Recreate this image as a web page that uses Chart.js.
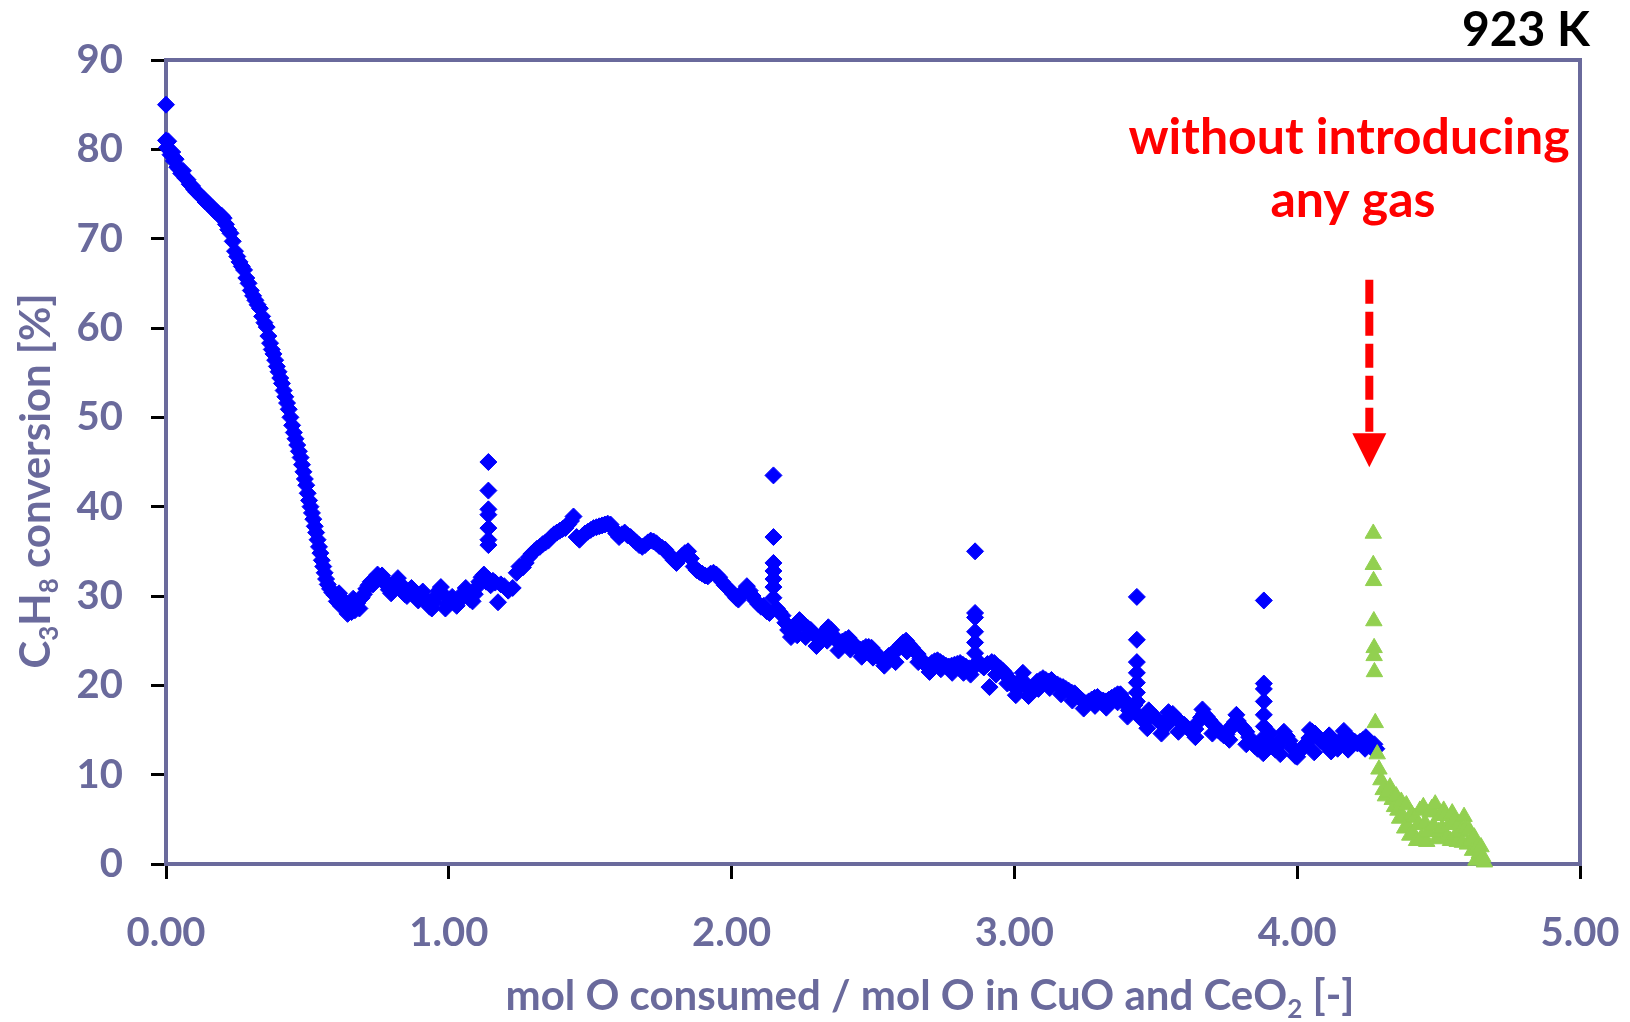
<!DOCTYPE html>
<html>
<head>
<meta charset="utf-8">
<script src="https://cdn.jsdelivr.net/npm/chart.js@4.4.1/dist/chart.umd.min.js"></script>
<style>
  html, body { margin: 0; padding: 0; background: #fff; }
  #wrap { width: 1630px; height: 1022px; }
</style>
</head>
<body>
<div id="wrap"><canvas id="myChart" width="1630" height="1022"></canvas></div>
<script>
const AXIS_COLOR = '#6a6a9c';
const FONT = 'Lato, "Open Sans", sans-serif';

// x = mol O consumed / mol O, y = C3H8 conversion [%]
const blueDrop = [
  [0.000,85.0],[0.000,81.0],[0.004,80.2],[0.008,80.9],[0.012,79.9],[0.016,79.4],[0.022,79.7],[0.028,78.7],
  [0.034,78.9],[0.040,78.0],[0.047,77.8],[0.054,77.3],[0.060,77.6],[0.068,76.8],[0.076,76.6],[0.084,76.1],
  [0.092,75.9],[0.100,75.5],[0.108,75.2],[0.116,75.0],[0.124,74.7],[0.132,74.5],[0.140,74.1],[0.148,74.0],
  [0.156,73.7],[0.164,73.5],[0.172,73.1],[0.180,73.0],[0.188,72.6],[0.196,72.6],[0.204,72.3],[0.212,71.6],
  [0.220,71.0],[0.228,70.6],[0.236,69.7],[0.244,68.6],[0.252,68.0],[0.260,67.4],[0.268,66.9],[0.276,66.5],
  [0.284,65.6],[0.292,65.0],[0.300,64.2],[0.308,63.6],[0.316,63.1],[0.324,62.6],[0.332,62.2],[0.340,61.3],
  [0.348,60.6],[0.356,60.1],[0.362,59.1],[0.368,58.3],[0.374,57.6],[0.380,57.1],[0.386,56.4],[0.392,55.7],
  [0.398,55.1],[0.404,54.4],[0.410,53.8],[0.416,53.0],[0.422,52.3],[0.428,51.6],[0.434,50.9],[0.440,50.0],
  [0.446,49.1],[0.452,48.3],[0.458,47.6],[0.464,46.9],[0.470,46.2],[0.476,45.5],[0.481,44.7],[0.486,43.9],
  [0.491,43.1],[0.496,42.4],[0.501,41.5],[0.506,40.7],[0.511,40.0],[0.516,39.3],[0.521,38.6],[0.526,37.8],
  [0.531,37.1],[0.536,36.3],[0.541,35.5],[0.546,34.8],[0.551,34.0],[0.556,33.3],[0.561,32.6],[0.566,31.9],
  [0.572,31.3],[0.580,30.8],[0.588,30.4],[0.596,30.1]
];

const blueValley = [
  [0.604,29.4],[0.612,30.3],[0.618,28.9],[0.626,29.6],[0.634,28.6],[0.642,28.0],[0.650,29.0],[0.656,28.2],
  [0.662,29.7],[0.668,28.4],[0.676,29.2],[0.684,28.6],[0.692,29.8],[0.700,30.2],[0.708,30.8],[0.716,31.2],
  [0.724,31.6],[0.732,31.3],[0.740,32.0],[0.748,32.4],[0.756,32.1],[0.764,32.3],[0.772,31.8],[0.780,31.2],
  [0.788,30.7],[0.796,30.3],[0.804,30.9],[0.812,31.5],[0.820,32.0],[0.828,31.4],[0.836,30.8],[0.844,30.2],
  [0.852,30.0],[0.860,30.6],[0.868,30.9],[0.876,30.4],[0.884,29.8],[0.892,29.5],[0.900,30.2],[0.908,30.5],
  [0.916,29.7],[0.924,29.2],[0.932,28.8],[0.940,28.6],[0.948,29.3],[0.956,30.0],[0.964,30.6],[0.972,31.0],
  [0.980,30.2],[0.988,28.6],[0.996,29.1],[1.004,29.6],[1.012,29.9],[1.020,29.2],[1.028,28.9],[1.036,29.4],
  [1.044,29.9],[1.052,30.4],[1.060,30.9],[1.068,30.3],[1.076,29.6],[1.084,29.4],[1.092,30.2],[1.100,31.0],
  [1.108,31.6],[1.116,32.1],[1.124,32.4],[1.132,31.6],[1.140,31.9],[1.148,31.2],[1.156,31.7],[1.164,31.5],
  [1.174,29.3],[1.184,31.3],[1.196,31.1],[1.210,30.6],[1.226,30.9],[1.240,32.6],[1.250,33.3],[1.262,33.2],
  [1.272,33.7],[1.282,34.3],[1.292,34.7],[1.302,35.0],[1.312,35.3],[1.322,35.5],[1.332,35.8],[1.342,36.0],
  [1.352,36.2],[1.362,36.6],[1.372,36.9],[1.382,37.1],[1.392,37.3],[1.402,37.5],[1.412,37.6],[1.422,38.0],
  [1.432,38.4],[1.441,38.9]
];

const blueHump = [
  [1.452,36.6],[1.462,36.3],[1.472,36.7],[1.482,37.0],[1.492,37.2],[1.502,37.4],[1.512,37.6],[1.522,37.7],
  [1.532,37.8],[1.542,37.9],[1.552,38.0],[1.562,38.1],[1.572,38.0],[1.582,37.5],[1.592,37.0],[1.602,36.6],
  [1.612,36.9],[1.622,37.1],[1.632,36.8],[1.643,36.6],[1.653,36.3],[1.663,36.0],[1.673,35.7],[1.684,35.5],
  [1.694,35.7],[1.704,36.0],[1.714,36.2],[1.724,36.1],[1.734,35.9],[1.744,35.6],[1.754,35.4],[1.765,35.2],
  [1.775,34.8],[1.785,34.4],[1.795,34.0],[1.805,33.7],[1.815,34.1],[1.825,34.5],[1.835,34.8],[1.846,35.0],
  [1.856,34.2],[1.866,33.3],[1.876,32.9],[1.886,32.7],[1.896,32.5],[1.906,32.3],[1.916,32.2],[1.926,32.5],
  [1.936,32.6],[1.946,32.4],[1.956,32.1],[1.966,31.6],[1.976,31.2],[1.986,30.9],[1.996,30.6],[2.006,30.2],
  [2.016,29.8],[2.024,29.6],[2.034,30.1],[2.044,30.6],[2.054,31.1],[2.064,30.6],[2.074,30.0],[2.084,29.5],
  [2.094,29.1],[2.104,28.8],[2.114,28.9],[2.124,28.3],[2.134,28.1],[2.160,28.6],[2.170,28.2],[2.180,27.8],
  [2.190,27.0],[2.200,26.2],[2.210,25.4],[2.220,26.2],[2.230,26.8],[2.240,27.3],[2.250,27.0],[2.260,26.6],
  [2.270,26.4],[2.280,26.2],[2.290,25.8],[2.300,25.4],[2.312,25.1],[2.322,25.6],[2.332,26.1],[2.342,26.5],
  [2.352,26.2],[2.362,25.5],[2.372,25.0],[2.382,24.7],[2.392,24.9],[2.402,25.1],[2.414,25.3],[2.424,24.9],
  [2.434,24.5],[2.444,24.2],[2.455,24.0],[2.465,24.1],[2.475,24.3],[2.485,24.3],[2.495,24.2],[2.505,23.8],
  [2.515,23.4],[2.525,23.0],[2.536,22.8],[2.546,23.0],[2.556,23.3],[2.566,23.5],[2.577,23.7],[2.587,24.1],
  [2.597,24.5],[2.607,24.8],[2.617,25.0],[2.627,24.6],[2.638,24.2],[2.648,23.8],[2.658,23.5],[2.668,23.0],
  [2.678,22.6],[2.688,22.2],[2.698,22.2],[2.708,22.5],[2.718,22.7],[2.728,22.8],[2.738,22.6],[2.748,22.4],
  [2.758,22.2],[2.768,22.1],[2.778,22.2],[2.788,22.3],[2.798,22.4],[2.808,22.5],[2.818,22.3],[2.828,22.1],
  [2.840,21.9],[2.850,21.8],[2.872,22.7],[2.882,22.3],[2.892,22.0]
];

const blueHumpEdge = [
  [2.232,25.6],[2.262,25.4],[2.300,24.4],[2.338,25.0],[2.378,23.9],[2.420,24.0],[2.460,23.2],[2.500,23.1],
  [2.540,22.2],[2.580,22.6],[2.620,23.8],[2.660,22.6],[2.700,21.5],[2.740,21.8],[2.780,21.4],[2.820,21.4],
  [2.845,21.2]
];

const blueTail = [
  [2.905,22.4],[2.912,19.8],[2.920,22.6],[2.929,22.5],[2.940,22.1],[2.950,21.9],[2.960,21.6],[2.969,21.3],
  [2.980,20.8],[2.990,20.3],[3.000,19.9],[3.010,19.5],[3.020,20.6],[3.030,21.4],[3.040,20.2],[3.050,18.8],
  [3.060,19.4],[3.070,19.9],[3.080,20.4],[3.091,20.6],[3.101,20.8],[3.111,20.6],[3.121,20.4],[3.131,20.6],
  [3.141,20.3],[3.152,20.1],[3.162,19.9],[3.172,19.8],[3.182,19.6],[3.192,19.4],[3.202,19.2],[3.213,19.1],
  [3.223,18.8],[3.233,18.5],[3.243,18.2],[3.253,18.0],[3.263,18.2],[3.273,18.4],[3.284,18.6],[3.294,18.7],
  [3.304,18.4],[3.314,18.3],[3.324,18.2],[3.334,18.4],[3.344,18.6],[3.355,18.8],[3.365,19.0],[3.375,19.0],
  [3.385,18.5],[3.395,17.8],[3.405,17.2],[3.415,17.5],[3.425,17.8],[3.440,16.6],[3.450,16.2],[3.460,16.1],
  [3.470,16.3],[3.480,16.5],[3.490,16.6],[3.500,16.4],[3.510,16.0],[3.520,15.7],[3.530,15.5],[3.540,15.6],
  [3.550,16.5],[3.560,16.8],[3.570,16.4],[3.580,16.1],[3.590,15.8],[3.600,15.6],[3.610,15.3],[3.620,15.0],
  [3.630,15.0],[3.640,15.1],[3.650,15.9],[3.660,16.4],[3.670,16.8],[3.680,16.5],[3.690,16.1],[3.700,15.7],
  [3.710,15.4],[3.720,15.0],[3.730,14.7],[3.740,14.4],[3.750,14.5],[3.760,15.0],[3.770,15.5],[3.780,15.9],
  [3.790,16.0],[3.800,15.5],[3.810,15.2],[3.820,14.8],[3.830,14.2],[3.840,13.6],[3.850,13.2],[3.860,12.9],
  [3.870,13.2],[3.893,13.3],[3.903,13.5],[3.913,13.1],[3.923,12.8],[3.933,13.3],[3.943,14.0],[3.953,14.8],
  [3.963,14.3],[3.973,13.8],[3.983,13.0],[3.993,12.1],[4.003,12.4],[4.013,12.8],[4.023,13.2],[4.033,13.5],
  [4.043,14.1],[4.053,14.8],[4.063,14.6],[4.073,14.2],[4.083,13.8],[4.093,13.5],[4.103,13.9],[4.113,14.4],
  [4.123,14.0],[4.133,13.3],[4.143,12.9],[4.153,13.5],[4.163,14.1],[4.173,14.5],[4.183,14.2],[4.193,13.9],
  [4.203,13.7],[4.213,13.5],[4.223,13.7],[4.233,13.9],[4.243,14.2],[4.253,13.8],[4.263,13.0],[4.273,13.4],
  [4.280,12.9]
];

const blueTailEdge = [
  [2.935,21.2],[2.975,20.2],[3.005,18.9],[3.045,19.8],[3.085,19.6],[3.125,19.7],[3.165,19.0],[3.205,18.3],
  [3.245,17.4],[3.285,17.7],[3.325,17.5],[3.365,18.1],[3.400,16.5],[3.470,15.2],[3.520,14.6],[3.580,14.8],
  [3.640,14.2],[3.700,14.6],[3.760,13.9],[3.820,13.4],[3.880,12.4],[3.940,12.3],[4.000,12.0],[4.060,12.5],
  [4.120,12.6],[4.180,12.8],[4.240,12.9],[3.475,17.2],[3.545,17.0],[3.665,17.3],[3.785,16.7],[3.905,14.6],
  [4.045,15.0],[4.165,14.9]
];

const blueSpikes = [
  [1.140,45.0],[1.140,41.8],[1.140,39.7],[1.140,39.1],[1.140,37.6],[1.140,36.3],[1.140,35.7],
  [2.148,43.5],[2.148,36.6],[2.148,33.7],[2.148,32.8],[2.148,31.9],[2.148,31.0],[2.148,29.8],
  [2.861,35.0],[2.861,28.1],[2.861,27.6],[2.861,26.0],[2.861,24.8],[2.861,23.6],
  [3.433,29.9],[3.433,25.1],[3.433,22.6],[3.433,21.4],[3.433,20.3],[3.433,19.2],[3.433,18.2],
  [3.882,29.5],[3.882,20.2],[3.882,19.6],[3.882,18.2],[3.882,16.7],[3.882,15.4],[3.882,14.2]
];

// after the gas feed was stopped
const greenPulse = [
  [4.269,37.0],[4.269,33.5],[4.270,31.7],[4.271,27.2],[4.272,24.2],[4.272,23.3],[4.273,21.5],[4.276,15.8],
  [4.283,12.3],[4.289,10.6],[4.296,9.4],[4.304,8.3],[4.312,7.6],[4.320,8.0],[4.328,8.6],[4.336,7.2],
  [4.344,6.4],[4.350,7.6],[4.356,6.0],[4.362,5.1],[4.368,7.0],[4.374,5.3],[4.380,4.0],[4.386,6.6],
  [4.392,4.2],[4.398,3.2],[4.404,5.6],[4.410,3.4],[4.416,5.2],[4.422,2.6],[4.428,4.4],[4.434,6.0],
  [4.440,3.0],[4.446,6.4],[4.452,4.6],[4.458,2.5],[4.464,3.6],[4.470,5.8],[4.476,6.2],[4.482,4.3],
  [4.488,6.7],[4.494,2.8],[4.500,3.6],[4.506,5.4],[4.512,4.0],[4.518,6.0],[4.524,5.5],[4.530,3.0],
  [4.536,4.4],[4.542,2.6],[4.548,5.7],[4.554,4.8],[4.560,3.2],[4.566,2.5],[4.572,4.5],[4.578,3.6],
  [4.584,2.4],[4.590,5.3],[4.596,4.0],[4.602,2.2],[4.608,3.8],[4.614,2.6],[4.620,1.5],[4.626,3.0],
  [4.632,0.4],[4.638,2.0],[4.644,1.2],[4.650,1.9],[4.656,0.8],[4.662,0.2]
];

const xTicks = [0, 1, 2, 3, 4, 5];
const yTicks = [0, 10, 20, 30, 40, 50, 60, 70, 80, 90];

// arrow annotation in data units
const arrowX = 4.255;
const arrowTop = 65.4;
const arrowTip = 44.4;

function toPoints(list) {
  return list.map(function(p) { return { x: p[0], y: p[1] }; });
}

const bluePoints = [].concat(
  toPoints(blueDrop), toPoints(blueValley), toPoints(blueHump), toPoints(blueHumpEdge),
  toPoints(blueTail), toPoints(blueTailEdge), toPoints(blueSpikes)
);

function drawRich(ctx, parts, size, x, y) {
  var w = 0;
  parts.forEach(function(p) {
    ctx.font = 'bold ' + (p[1] ? size * 0.62 : size) + 'px ' + FONT;
    w += ctx.measureText(p[0]).width;
  });
  var cx = x - w / 2;
  parts.forEach(function(p) {
    ctx.font = 'bold ' + (p[1] ? size * 0.62 : size) + 'px ' + FONT;
    ctx.fillText(p[0], cx, y + (p[1] ? size * 0.2 : 0));
    cx += ctx.measureText(p[0]).width;
  });
}

const framePlugin = {
  id: 'frame',
  beforeDatasetsDraw: function(chart) {
    const a = chart.chartArea;
    const ctx = chart.ctx;
    ctx.save();
    ctx.strokeStyle = AXIS_COLOR;
    ctx.lineWidth = 4;
    ctx.strokeRect(a.left, a.top, a.right - a.left, a.bottom - a.top);
    ctx.restore();
  },
  afterDraw: function(chart) {
    const ctx = chart.ctx;
    const xs = chart.scales.x, ys = chart.scales.y;
    ctx.save();

    // axis titles
    ctx.fillStyle = AXIS_COLOR;
    ctx.textAlign = 'left';
    ctx.textBaseline = 'alphabetic';
    drawRich(ctx, [['mol O consumed / mol O in CuO and CeO'], ['2', true], [' [-]']], 42, 930, 1010);
    ctx.save();
    ctx.translate(50, 481);
    ctx.rotate(-Math.PI / 2);
    drawRich(ctx, [['C'], ['3', true], ['H'], ['8', true], [' conversion [%]']], 42, 0, 0);
    ctx.restore();

    // temperature label
    ctx.fillStyle = '#000';
    ctx.textAlign = 'right';
    ctx.font = 'bold 48px ' + FONT;
    ctx.fillText('923 K', 1590, 46);

    // red note
    ctx.fillStyle = '#ff0000';
    ctx.textAlign = 'center';
    ctx.font = 'bold 50px ' + FONT;
    ctx.fillText('without introducing', 1349, 154);
    ctx.fillText('any gas', 1353, 217);

    // dashed arrow
    const ax = xs.getPixelForValue(arrowX);
    const yTop = ys.getPixelForValue(arrowTop);
    const yTip = ys.getPixelForValue(arrowTip);
    const headH = 34, headW = 34;
    ctx.strokeStyle = '#ff0000';
    ctx.lineWidth = 8;
    ctx.setLineDash([24, 8]);
    ctx.beginPath();
    ctx.moveTo(ax, yTop);
    ctx.lineTo(ax, yTip - headH + 4);
    ctx.stroke();
    ctx.setLineDash([]);
    ctx.beginPath();
    ctx.moveTo(ax - headW / 2, yTip - headH);
    ctx.lineTo(ax + headW / 2, yTip - headH);
    ctx.lineTo(ax, yTip);
    ctx.closePath();
    ctx.fill();
    ctx.restore();
  }
};

const ctx = document.getElementById('myChart').getContext('2d');
new Chart(ctx, {
  type: 'scatter',
  data: {
    datasets: [{
      label: 'without gas',
      data: toPoints(greenPulse),
      pointStyle: 'triangle',
      pointRadius: 9.5,
      pointBackgroundColor: '#92d050',
      pointBorderColor: '#92d050',
      pointBorderWidth: 1,
      clip: false
    }, {
      label: 'C3H8 conversion',
      data: bluePoints,
      pointStyle: 'rectRot',
      pointRadius: 8.5,
      pointBackgroundColor: '#0000ff',
      pointBorderColor: '#0000ff',
      pointBorderWidth: 1,
      clip: false
    }]
  },
  options: {
    responsive: false,
    animation: false,
    layout: { padding: { left: 0, top: 60, right: 50, bottom: 0 } },
    plugins: {
      legend: { display: false },
      tooltip: { enabled: false }
    },
    scales: {
      x: {
        type: 'linear',
        min: 0,
        max: 5,
        afterFit: function(s) { s.height = 158; s.paddingLeft = 0; s.paddingRight = 0; },
        afterBuildTicks: function(s) { s.ticks = xTicks.map(function(v) { return { value: v }; }); },
        ticks: {
          color: AXIS_COLOR,
          font: { family: FONT, size: 40, weight: 'bold' },
          padding: 30,
          maxRotation: 0,
          callback: function(v) { return Number(v).toFixed(2); }
        },
        grid: { drawOnChartArea: false, drawTicks: true, tickLength: 15, tickWidth: 3, tickColor: '#000' },
        border: { display: true, color: '#000', width: 3 }
      },
      y: {
        min: 0,
        max: 90,
        afterFit: function(s) { s.width = 166; s.paddingTop = 0; s.paddingBottom = 0; },
        afterBuildTicks: function(s) { s.ticks = yTicks.map(function(v) { return { value: v }; }); },
        ticks: {
          color: AXIS_COLOR,
          font: { family: FONT, size: 40, weight: 'bold' },
          padding: 28
        },
        grid: { drawOnChartArea: false, drawTicks: true, tickLength: 15, tickWidth: 3, tickColor: '#000' },
        border: { display: true, color: '#000', width: 3 }
      }
    }
  },
  plugins: [framePlugin]
});
</script>
</body>
</html>
